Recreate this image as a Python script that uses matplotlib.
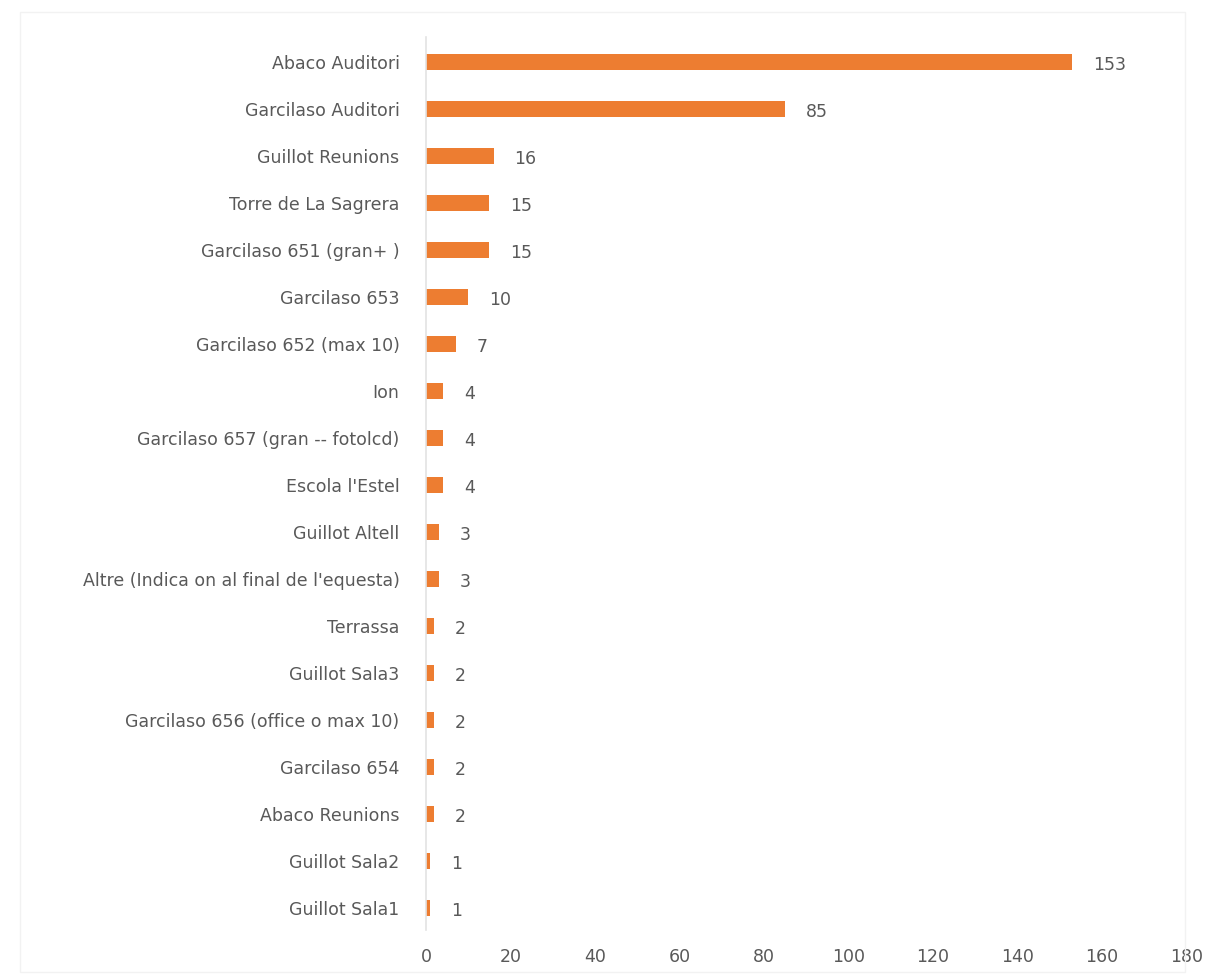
import matplotlib.pyplot as plt
from matplotlib.patches import Rectangle

rooms = [
    "Abaco Auditori",
    "Garcilaso Auditori",
    "Guillot Reunions",
    "Torre de La Sagrera",
    "Garcilaso 651 (gran+ )",
    "Garcilaso 653",
    "Garcilaso 652 (max 10)",
    "Ion",
    "Garcilaso 657 (gran -- fotolcd)",
    "Escola l'Estel",
    "Guillot Altell",
    "Altre (Indica on al final de l'equesta)",
    "Terrassa",
    "Guillot Sala3",
    "Garcilaso 656 (office o max 10)",
    "Garcilaso 654",
    "Abaco Reunions",
    "Guillot Sala2",
    "Guillot Sala1",
]
counts = [153, 85, 16, 15, 15, 10, 7, 4, 4, 4, 3, 3, 2, 2, 2, 2, 2, 1, 1]
x_ticks = [0, 20, 40, 60, 80, 100, 120, 140, 160, 180]

plt.rcParams['font.family'] = ['DejaVu Sans']
grey = '#595959'
fs = 12.5

fig = plt.figure(figsize=(12.05, 9.77), dpi=100)
ax = fig.add_axes([0.3535, 0.048, 0.631, 0.914])

# faint chart-area border
fig.patches.append(Rectangle((0.017, 0.005), 0.966, 0.983, transform=fig.transFigure,
                             fill=False, edgecolor='#f2f2f2', linewidth=1))

ypos = list(range(len(rooms)))
bars = ax.barh(ypos, counts, height=0.35, color='#ED7D31')
for y, v in zip(ypos, counts):
    ax.annotate(str(v), (v, y), xytext=(15, -2), textcoords='offset points',
                va='center', ha='left', fontsize=fs, color=grey)

ax.set_ylim(18.47, -0.53)
ax.set_xlim(0, 180)
ax.set_yticks(ypos)
ax.set_yticklabels(rooms, fontsize=fs, color=grey)
ax.set_xticks(x_ticks)
ax.set_xticklabels([str(t) for t in x_ticks], fontsize=fs, color=grey)
ax.tick_params(axis='both', length=0)
ax.tick_params(axis='y', pad=19)
ax.tick_params(axis='x', pad=13)
for s in ['top', 'right', 'bottom']:
    ax.spines[s].set_visible(False)
ax.spines['left'].set_color('#e3e3e3')
ax.spines['left'].set_linewidth(1.2)

fig.savefig('out.png', dpi=100)
